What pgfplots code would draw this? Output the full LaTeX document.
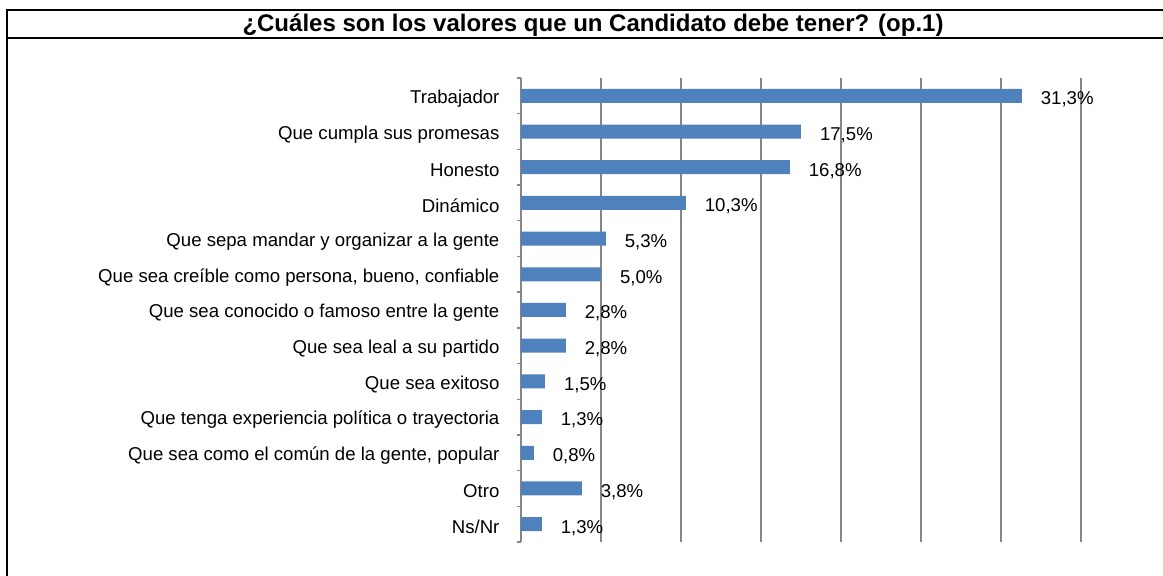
\documentclass[border=0pt]{standalone}
\usepackage{fontspec}
\setmainfont{Liberation Sans}
\usepackage{pgfplots}
\pgfplotsset{compat=1.18}
\definecolor{barblue}{HTML}{4F81BD}
\definecolor{gridgray}{HTML}{868686}
\begin{document}
\begin{tikzpicture}[x=0.5pt,y=0.5pt]
\useasboundingbox (0,0) rectangle (1163,576);
\draw[line width=1.3pt] (7,0) -- (7,566) (6,566) -- (1163,566);
\draw[line width=1.3pt] (6,538) -- (1163,538);
\node[anchor=base, font=\bfseries\fontsize{12}{14}\selectfont] at (593,544) {¿Cuáles son los valores que un Candidato debe tener? (op.1)};
\begin{axis}[
 at={(260.5pt,17pt)}, anchor=south west,
 scale only axis, width=280pt, height=232pt,
 xbar, bar width=7pt,
 xmin=0, xmax=35, ymin=-0.5, ymax=12.5, y dir=reverse,
 axis lines*=left,
 x axis line style={draw=none},
 y axis line style={draw=gridgray, line width=0.7pt},
 xtick={5,10,...,35}, xticklabels={}, xmajorgrids, major x tick style={draw=none},
 grid style={draw=gridgray, line width=0.9pt},
 ytick={0,...,12},
 yticklabels={Trabajador, Que cumpla sus promesas, Honesto, Dinámico, Que sepa mandar y organizar a la gente, {Que sea creíble como persona, bueno, confiable}, Que sea conocido o famoso entre la gente, Que sea leal a su partido, Que sea exitoso, Que tenga experiencia política o trayectoria, {Que sea como el común de la gente, popular}, Otro, Ns/Nr},
 major y tick style={draw=none},
 minor ytick={-0.5,0.5,...,12.5}, minor y tick style={draw=gridgray,line width=0.7pt}, minor tick length=2pt, tick align=outside,
 yticklabel style={font=\fontsize{9.3}{10}\selectfont, xshift=-3pt, yshift=-1.5pt},
 point meta=x,
 nodes near coords={\pgfmathprintnumber[fixed, fixed zerofill, precision=1, use comma, assume math mode=true]{\pgfplotspointmeta}\%},
 every node near coord/.append style={font=\fontsize{9.3}{10}\selectfont, anchor=west, xshift=6pt, yshift=-1.8pt, text=black},
]
\addplot[fill=barblue, draw=none] coordinates {
(31.3,0) (17.5,1) (16.8,2) (10.3,3) (5.3,4) (5.0,5) (2.8,6) (2.8,7) (1.5,8) (1.3,9) (0.8,10) (3.8,11) (1.3,12)};
\end{axis}
\end{tikzpicture}
\end{document}
